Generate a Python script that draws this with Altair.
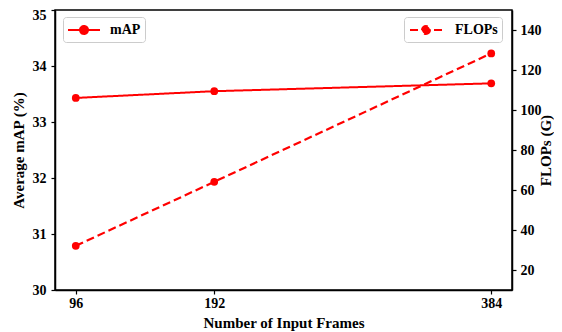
import altair as alt
import pandas as pd

# ---- data ----
frames = [96, 192, 384]
map_values = [33.43, 33.55, 33.69]
flops_values = [32.1, 64.1, 128.3]
x_ticks = [96, 192, 384]
map_ticks = [30, 31, 32, 33, 34, 35]
flops_ticks = [20, 40, 60, 80, 100, 120, 140]

df = pd.DataFrame({"frames": frames, "mAP": map_values, "FLOPs": flops_values})

FONT = "Liberation Serif"
RED = "#ff0000"
SYMBOL = "M-2,0L2,0M0.5,0A0.5,0.5,0,1,1,-0.5,0A0.5,0.5,0,1,1,0.5,0Z"


def legend(x, y, sym_off, lab_off):
    return alt.Legend(
        title=None, orient="none", legendX=x, legendY=y,
        symbolType=SYMBOL, symbolSize=256, symbolStrokeWidth=2,
        symbolFillColor=RED, symbolStrokeColor=RED,
        symbolOffset=sym_off, labelOffset=lab_off,
        labelFont=FONT, labelFontSize=14, labelFontWeight="bold", labelColor="black",
        padding=4, strokeColor="#cccccc", fillColor="white", cornerRadius=3,
    )


x_enc = alt.X(
    "frames:Q",
    scale=alt.Scale(domain=[81.6, 398.4], nice=False, zero=False),
    axis=alt.Axis(
        values=x_ticks, title="Number of Input Frames",
        titleBaseline="alphabetic", titleY=37,
        labelBaseline="alphabetic", labelPadding=13.5,
    ),
)

map_y = alt.Y(
    "mAP:Q",
    scale=alt.Scale(domain=[30, 35], nice=False, zero=False),
    axis=alt.Axis(
        orient="left", values=map_ticks, title="Average mAP (%)",
        titleAngle=270, titleBaseline="alphabetic", titleX=-32, titleY=140,
        titleAlign="center", labelPadding=5,
        labelOffset={"condition": {"test": "datum.value == 35", "value": 5}, "value": 0},
    ),
)

flops_y = alt.Y(
    "FLOPs:Q",
    scale=alt.Scale(domain=[10, 150], nice=False, zero=False),
    axis=alt.Axis(
        orient="right", values=flops_ticks, title="FLOPs (G)",
        titleAngle=270, titleBaseline="alphabetic", titleX=38, titleY=140,
        titleAlign="center", labelPadding=4,
    ),
)

base = alt.Chart(df)

map_line = base.transform_calculate(series="'mAP'").mark_line(
    color=RED, strokeWidth=2
).encode(
    x=x_enc, y=map_y,
    strokeDash=alt.StrokeDash(
        "series:N", scale=alt.Scale(domain=["mAP"], range=[[1, 0]]),
        legend=legend(8, 7, 8, 17),
    ),
)
map_pts = base.mark_circle(color=RED, size=60, opacity=1).encode(x=x_enc, y=map_y)

flops_line = base.transform_calculate(series="'FLOPs'").mark_line(
    color=RED, strokeWidth=2.2
).encode(
    x=x_enc, y=flops_y,
    strokeDash=alt.StrokeDash(
        "series:N", scale=alt.Scale(domain=["FLOPs"], range=[[8, 4]]),
        legend=legend(349, 7, 9, 20),
    ),
)
flops_pts = base.mark_circle(color=RED, size=60, opacity=1).encode(x=x_enc, y=flops_y)

left = alt.layer(map_line, map_pts)
right = alt.layer(flops_line, flops_pts)

chart = alt.layer(left, right).resolve_scale(
    y="independent", strokeDash="independent"
).resolve_legend(strokeDash="independent").properties(
    width=457, height=280,
    autosize=alt.AutoSizeParams(type="none"),
    padding={"left": 47, "top": 2, "right": 42, "bottom": 42},
).configure_view(
    stroke="black", strokeWidth=1.5
).configure_axis(
    grid=False, domainColor="black", domainWidth=1.5,
    tickColor="black", tickWidth=1.2, tickSize=4,
    labelFont=FONT, labelFontSize=14, labelFontWeight="bold", labelColor="black",
    titleFont=FONT, titleFontSize=15, titleFontWeight="bold", titleColor="black",
)

chart.save("out.html", embed_options={"renderer": "svg", "actions": False})
